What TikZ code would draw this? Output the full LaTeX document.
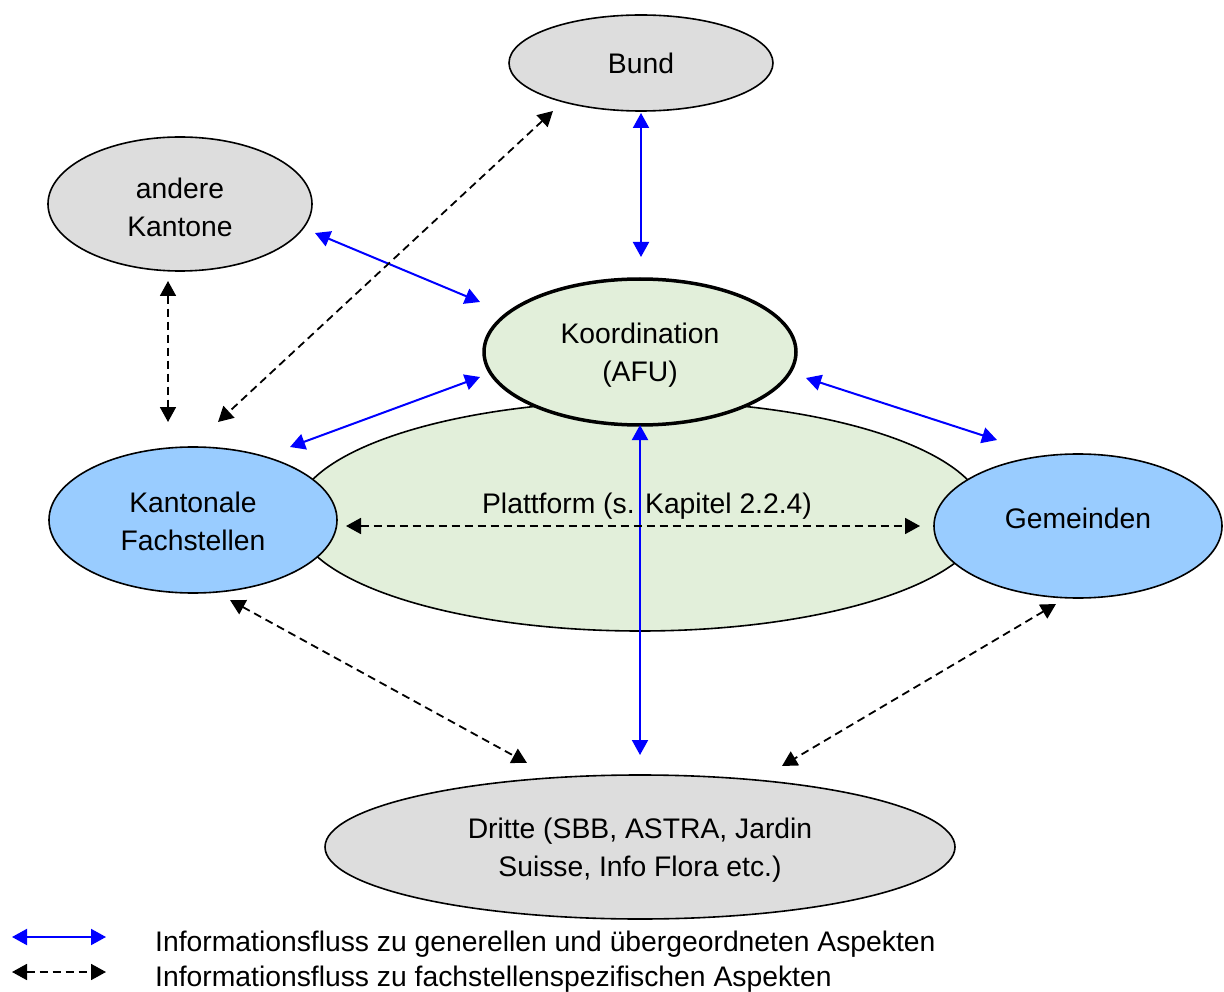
\documentclass[tikz,border=0pt]{standalone}
\usepackage{fontspec}
\setmainfont{Liberation Sans}
\usetikzlibrary{arrows.meta,shapes.geometric}
\definecolor{grayfill}{HTML}{DDDDDD}
\definecolor{greenfill}{HTML}{E2EFDA}
\definecolor{bluefill}{HTML}{99CCFF}
\definecolor{arrblue}{HTML}{0000FF}
\begin{document}
\begin{tikzpicture}[x=1pt,y=-1pt,
  ell/.style={ellipse, draw=black, line width=1.6pt, inner sep=0pt},
  txt/.style={align=center, inner sep=0pt, font=\fontsize{28.3}{38}\selectfont},
  gen/.style={draw=arrblue, line width=2pt,
    {Triangle[length=15pt,width=16pt]}-{Triangle[length=15pt,width=16pt]}},
  spec/.style={draw=black, line width=1.8pt, dash pattern=on 8pt off 5pt,
    {Triangle[length=15pt,width=16pt]}-{Triangle[length=15pt,width=16pt]}},
  lbl/.style={font=\fontsize{28.3}{35}\selectfont, inner sep=0pt}]
\useasboundingbox (0,0) rectangle (1224,992);

% platform
\node[ell, fill=greenfill, minimum width=690pt, minimum height=230pt] (plat) at (640,516) {};
\node[txt] (plattxt) at (647,506) {Plattform (s. Kapitel 2.2.4)};

% nodes
\node[ell, fill=grayfill, minimum width=264pt, minimum height=96pt] (bund) at (641,63) {};
\node[ell, fill=grayfill, minimum width=264pt, minimum height=134pt] (andere) at (180,204) {};
\node[ell, fill=bluefill, minimum width=288pt, minimum height=146pt] (kant) at (193,520) {};
\node[ell, fill=bluefill, minimum width=288pt, minimum height=144pt] (gem) at (1078,526) {};
\node[ell, fill=greenfill, line width=3.5pt, minimum width=312pt, minimum height=146pt] (koord) at (640,352) {};
\node[ell, fill=grayfill, minimum width=630pt, minimum height=144pt] (dritte) at (640,847) {};

\node[txt] (bundtxt) at (641,63) {Bund};
\node[txt] (anderetxt) at (180,207.5) {andere\\Kantone};
\node[txt] (kanttxt) at (193,521.5) {Kantonale\\Fachstellen};
\node[txt] (gemtxt) at (1078,518) {Gemeinden};
\node[txt] (koordtxt) at (640,355) {Koordination\\(AFU)};
\node[txt] (drittetxt) at (640,850) {Dritte (SBB, ASTRA, Jardin\\Suisse, Info Flora etc.)};

% arrow end points
\coordinate (a1s) at (641,113); \coordinate (a1e) at (641,257);
\coordinate (a2s) at (315,233); \coordinate (a2e) at (480,302);
\coordinate (a3s) at (480,377); \coordinate (a3e) at (290,447);
\coordinate (a4s) at (806,378); \coordinate (a4e) at (997,440);
\coordinate (a5s) at (640,425); \coordinate (a5e) at (640,755);
\coordinate (b1s) at (553,111); \coordinate (b1e) at (218,422);
\coordinate (b2s) at (168,281); \coordinate (b2e) at (168,422);
\coordinate (b3s) at (346,526); \coordinate (b3e) at (920,526);
\coordinate (b4s) at (230,600); \coordinate (b4e) at (527,763);
\coordinate (b5s) at (1056,604); \coordinate (b5e) at (782,766);

\draw[gen] (a1s) -- (a1e);
\draw[gen] (a2s) -- (a2e);
\draw[gen] (a3s) -- (a3e);
\draw[gen] (a4s) -- (a4e);
\draw[gen] (a5s) -- (a5e);
\draw[spec] (b1s) -- (b1e);
\draw[spec] (b2s) -- (b2e);
\draw[spec] (b3s) -- (b3e);
\draw[spec] (b4s) -- (b4e);
\draw[spec] (b5s) -- (b5e);

% legend
\coordinate (l1s) at (12,937); \coordinate (l1e) at (106,937);
\coordinate (l2s) at (12,972); \coordinate (l2e) at (106,972);
\draw[gen] (l1s) -- (l1e);
\draw[spec] (l2s) -- (l2e);
\node[lbl, anchor=west] (leg1) at (155,944) {Informationsfluss zu generellen und übergeordneten Aspekten};
\node[lbl, anchor=west] (leg2) at (155,979) {Informationsfluss zu fachstellenspezifischen Aspekten};
\end{tikzpicture}
\end{document}
